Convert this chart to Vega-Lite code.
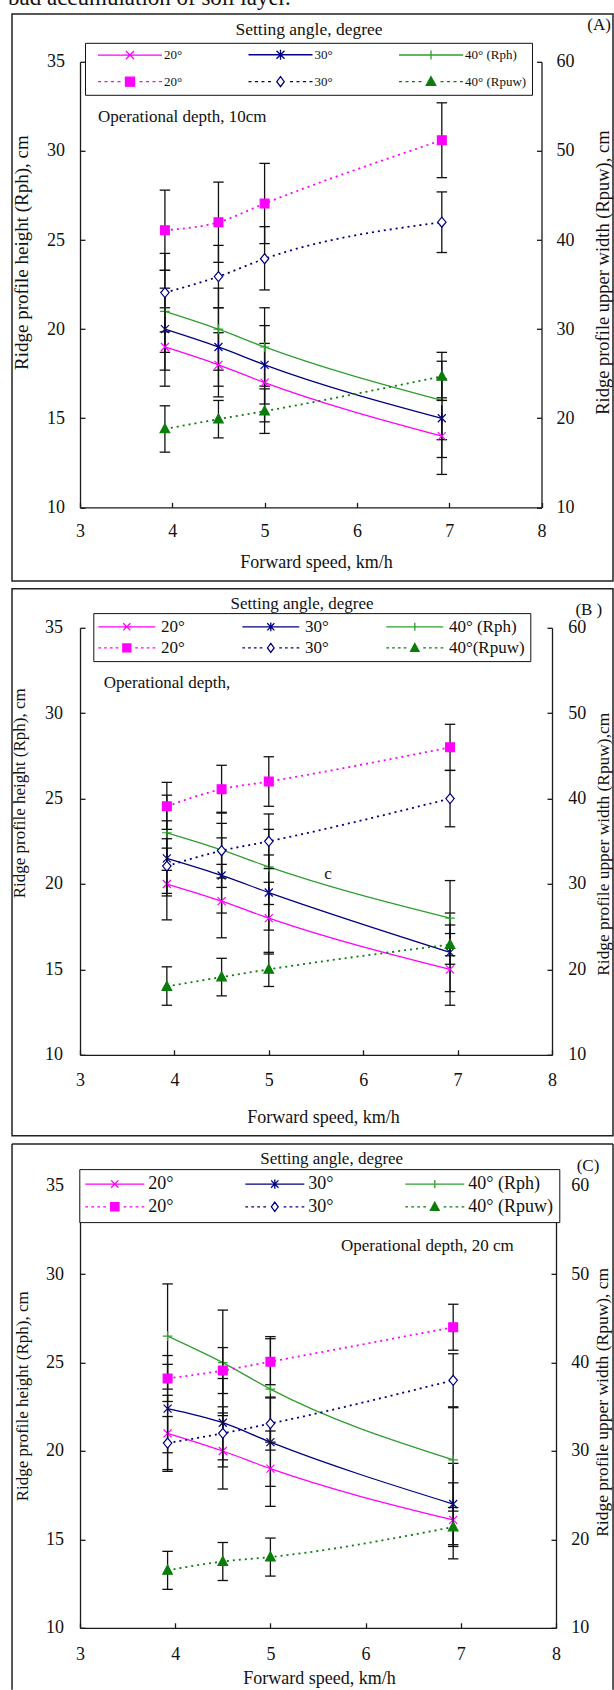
{
  "$schema": "https://vega.github.io/schema/vega-lite/v6.json",
  "autosize": {"type": "pad"},
  "padding": {"left": 8, "top": -13.2, "right": 0, "bottom": 0},
  "background": "white",
  "config": {
    "font": "Liberation Serif",
    "view": {"stroke": null},
    "axis": {"grid": false, "domainColor": "#1a1a1a", "domainWidth": 1.3, "tickColor": "#1a1a1a", "tickWidth": 1.3, "tickSize": -5, "labelColor": "#111", "titleColor": "#111", "labelFont": "Liberation Serif", "titleFont": "Liberation Serif", "titleFontWeight": "normal", "labelFontSize": 18, "labelFlush": false, "labelOverlap": false, "format": "d"}
  },
  "datasets": {
    "keys": [{"series": "k1"}, {"series": "k2"}, {"series": "k3"}, {"series": "k4"}, {"series": "k5"}, {"series": "k6"}],
    "pts": [
      {"panel": "A", "series": "Rph 20°", "measure": "Rph", "speed": 3.92, "value": 19, "lo": 16.8, "hi": 21.2},
      {"panel": "A", "series": "Rph 20°", "measure": "Rph", "speed": 4.5, "value": 18, "lo": 16.2, "hi": 19.8},
      {"panel": "A", "series": "Rph 20°", "measure": "Rph", "speed": 5.0, "value": 17, "lo": 14.8, "hi": 19.2},
      {"panel": "A", "series": "Rph 20°", "measure": "Rph", "speed": 6.92, "value": 14, "lo": 11.85, "hi": 16.15},
      {"panel": "A", "series": "Rph 30°", "measure": "Rph", "speed": 3.92, "value": 20, "lo": 17.7, "hi": 22.3},
      {"panel": "A", "series": "Rph 30°", "measure": "Rph", "speed": 4.5, "value": 19, "lo": 16.8, "hi": 21.2},
      {"panel": "A", "series": "Rph 30°", "measure": "Rph", "speed": 5.0, "value": 18, "lo": 15.8, "hi": 20.2},
      {"panel": "A", "series": "Rph 30°", "measure": "Rph", "speed": 6.92, "value": 15, "lo": 12.8, "hi": 17.2},
      {"panel": "A", "series": "Rph 40°", "measure": "Rph", "speed": 3.92, "value": 21, "lo": 18.7, "hi": 23.3},
      {"panel": "A", "series": "Rph 40°", "measure": "Rph", "speed": 4.5, "value": 20, "lo": 17.7, "hi": 22.3},
      {"panel": "A", "series": "Rph 40°", "measure": "Rph", "speed": 5.0, "value": 19, "lo": 16.8, "hi": 21.2},
      {"panel": "A", "series": "Rph 40°", "measure": "Rph", "speed": 6.92, "value": 16, "lo": 13.8, "hi": 18.2},
      {"panel": "A", "series": "Rpuw 20°", "measure": "Rpuw", "speed": 3.92, "value": 41.1, "lo": 36.6, "hi": 45.6},
      {"panel": "A", "series": "Rpuw 20°", "measure": "Rpuw", "speed": 4.5, "value": 42, "lo": 37.5, "hi": 46.5},
      {"panel": "A", "series": "Rpuw 20°", "measure": "Rpuw", "speed": 5.0, "value": 44.1, "lo": 39.6, "hi": 48.6},
      {"panel": "A", "series": "Rpuw 20°", "measure": "Rpuw", "speed": 6.92, "value": 51.2, "lo": 47, "hi": 55.4},
      {"panel": "A", "series": "Rpuw 30°", "measure": "Rpuw", "speed": 3.92, "value": 34.1, "lo": 29.7, "hi": 38.5},
      {"panel": "A", "series": "Rpuw 30°", "measure": "Rpuw", "speed": 4.5, "value": 35.9, "lo": 32.4, "hi": 39.4},
      {"panel": "A", "series": "Rpuw 30°", "measure": "Rpuw", "speed": 5.0, "value": 37.9, "lo": 34.4, "hi": 41.5},
      {"panel": "A", "series": "Rpuw 30°", "measure": "Rpuw", "speed": 6.92, "value": 42, "lo": 38.6, "hi": 45.4},
      {"panel": "A", "series": "Rpuw 40°", "measure": "Rpuw", "speed": 3.92, "value": 18.8, "lo": 16.2, "hi": 21.4},
      {"panel": "A", "series": "Rpuw 40°", "measure": "Rpuw", "speed": 4.5, "value": 19.9, "lo": 17.8, "hi": 22},
      {"panel": "A", "series": "Rpuw 40°", "measure": "Rpuw", "speed": 5.0, "value": 20.8, "lo": 18.3, "hi": 23.3},
      {"panel": "A", "series": "Rpuw 40°", "measure": "Rpuw", "speed": 6.92, "value": 24.7, "lo": 22, "hi": 27.4},
      {"panel": "B", "series": "Rph 20°", "measure": "Rph", "speed": 3.92, "value": 20, "lo": 17.9, "hi": 22.1},
      {"panel": "B", "series": "Rph 20°", "measure": "Rph", "speed": 4.5, "value": 19, "lo": 16.85, "hi": 21.15},
      {"panel": "B", "series": "Rph 20°", "measure": "Rph", "speed": 5.0, "value": 18, "lo": 15.9, "hi": 20.1},
      {"panel": "B", "series": "Rph 20°", "measure": "Rph", "speed": 6.92, "value": 15, "lo": 12.9, "hi": 17.1},
      {"panel": "B", "series": "Rph 30°", "measure": "Rph", "speed": 3.92, "value": 21.5, "lo": 19.3, "hi": 23.7},
      {"panel": "B", "series": "Rph 30°", "measure": "Rph", "speed": 4.5, "value": 20.5, "lo": 18.3, "hi": 22.7},
      {"panel": "B", "series": "Rph 30°", "measure": "Rph", "speed": 5.0, "value": 19.5, "lo": 17.3, "hi": 21.7},
      {"panel": "B", "series": "Rph 30°", "measure": "Rph", "speed": 6.92, "value": 16, "lo": 13.7, "hi": 18.3},
      {"panel": "B", "series": "Rph 40°", "measure": "Rph", "speed": 3.92, "value": 23, "lo": 20.8, "hi": 25.2},
      {"panel": "B", "series": "Rph 40°", "measure": "Rph", "speed": 4.5, "value": 22, "lo": 19.8, "hi": 24.2},
      {"panel": "B", "series": "Rph 40°", "measure": "Rph", "speed": 5.0, "value": 21, "lo": 18.8, "hi": 23.2},
      {"panel": "B", "series": "Rph 40°", "measure": "Rph", "speed": 6.92, "value": 18, "lo": 15.8, "hi": 20.2},
      {"panel": "B", "series": "Rpuw 20°", "measure": "Rpuw", "speed": 3.92, "value": 39.1, "lo": 36.4, "hi": 41.9},
      {"panel": "B", "series": "Rpuw 20°", "measure": "Rpuw", "speed": 4.5, "value": 41.1, "lo": 38.3, "hi": 43.9},
      {"panel": "B", "series": "Rpuw 20°", "measure": "Rpuw", "speed": 5.0, "value": 42, "lo": 39.1, "hi": 44.9},
      {"panel": "B", "series": "Rpuw 20°", "measure": "Rpuw", "speed": 6.92, "value": 46, "lo": 43.3, "hi": 48.7},
      {"panel": "B", "series": "Rpuw 30°", "measure": "Rpuw", "speed": 3.92, "value": 32.1, "lo": 28.9, "hi": 35.3},
      {"panel": "B", "series": "Rpuw 30°", "measure": "Rpuw", "speed": 4.5, "value": 33.9, "lo": 30.7, "hi": 37.1},
      {"panel": "B", "series": "Rpuw 30°", "measure": "Rpuw", "speed": 5.0, "value": 35, "lo": 31.8, "hi": 38.2},
      {"panel": "B", "series": "Rpuw 30°", "measure": "Rpuw", "speed": 6.92, "value": 40, "lo": 36.7, "hi": 43.3},
      {"panel": "B", "series": "Rpuw 40°", "measure": "Rpuw", "speed": 3.92, "value": 18, "lo": 15.8, "hi": 20.3},
      {"panel": "B", "series": "Rpuw 40°", "measure": "Rpuw", "speed": 4.5, "value": 19.1, "lo": 16.9, "hi": 21.3},
      {"panel": "B", "series": "Rpuw 40°", "measure": "Rpuw", "speed": 5.0, "value": 20, "lo": 18, "hi": 22},
      {"panel": "B", "series": "Rpuw 40°", "measure": "Rpuw", "speed": 6.92, "value": 22.9, "lo": 20.6, "hi": 25.2},
      {"panel": "C", "series": "Rph 20°", "measure": "Rph", "speed": 3.92, "value": 21, "lo": 18.85, "hi": 23.15},
      {"panel": "C", "series": "Rph 20°", "measure": "Rph", "speed": 4.5, "value": 20, "lo": 17.85, "hi": 22.15},
      {"panel": "C", "series": "Rph 20°", "measure": "Rph", "speed": 5.0, "value": 19, "lo": 16.87, "hi": 21.13},
      {"panel": "C", "series": "Rph 20°", "measure": "Rph", "speed": 6.92, "value": 16.1, "lo": 13.9, "hi": 18.2},
      {"panel": "C", "series": "Rph 30°", "measure": "Rph", "speed": 3.92, "value": 22.4, "lo": 19.9, "hi": 24.9},
      {"panel": "C", "series": "Rph 30°", "measure": "Rph", "speed": 4.5, "value": 21.6, "lo": 19.1, "hi": 24.1},
      {"panel": "C", "series": "Rph 30°", "measure": "Rph", "speed": 5.0, "value": 20.5, "lo": 18, "hi": 23},
      {"panel": "C", "series": "Rph 30°", "measure": "Rph", "speed": 6.92, "value": 17, "lo": 14.7, "hi": 19.3},
      {"panel": "C", "series": "Rph 40°", "measure": "Rph", "speed": 3.92, "value": 26.5, "lo": 23.5, "hi": 29.45},
      {"panel": "C", "series": "Rph 40°", "measure": "Rph", "speed": 4.5, "value": 25, "lo": 22, "hi": 27.97},
      {"panel": "C", "series": "Rph 40°", "measure": "Rph", "speed": 5.0, "value": 23.5, "lo": 20.5, "hi": 26.47},
      {"panel": "C", "series": "Rph 40°", "measure": "Rph", "speed": 6.92, "value": 19.5, "lo": 16.6, "hi": 22.45},
      {"panel": "C", "series": "Rpuw 20°", "measure": "Rpuw", "speed": 3.92, "value": 38.2, "lo": 35.6, "hi": 40.8},
      {"panel": "C", "series": "Rpuw 20°", "measure": "Rpuw", "speed": 4.5, "value": 39.1, "lo": 36.5, "hi": 41.7},
      {"panel": "C", "series": "Rpuw 20°", "measure": "Rpuw", "speed": 5.0, "value": 40.1, "lo": 37.5, "hi": 42.7},
      {"panel": "C", "series": "Rpuw 20°", "measure": "Rpuw", "speed": 6.92, "value": 44, "lo": 41.4, "hi": 46.6},
      {"panel": "C", "series": "Rpuw 30°", "measure": "Rpuw", "speed": 3.92, "value": 30.9, "lo": 27.9, "hi": 33.9},
      {"panel": "C", "series": "Rpuw 30°", "measure": "Rpuw", "speed": 4.5, "value": 32, "lo": 29, "hi": 35},
      {"panel": "C", "series": "Rpuw 30°", "measure": "Rpuw", "speed": 5.0, "value": 33.1, "lo": 30.1, "hi": 36.1},
      {"panel": "C", "series": "Rpuw 30°", "measure": "Rpuw", "speed": 6.92, "value": 38, "lo": 35, "hi": 41},
      {"panel": "C", "series": "Rpuw 40°", "measure": "Rpuw", "speed": 3.92, "value": 16.5, "lo": 14.35, "hi": 18.65},
      {"panel": "C", "series": "Rpuw 40°", "measure": "Rpuw", "speed": 4.5, "value": 17.5, "lo": 15.35, "hi": 19.65},
      {"panel": "C", "series": "Rpuw 40°", "measure": "Rpuw", "speed": 5.0, "value": 18, "lo": 15.85, "hi": 20.15},
      {"panel": "C", "series": "Rpuw 40°", "measure": "Rpuw", "speed": 6.92, "value": 21.4, "lo": 19.2, "hi": 23.6}
    ]
  },
  "vconcat": [
    {
      "width": 461.5,
      "height": 445.6,
      "layer": [
        {
          "layer": [
            {"data": {"values": [{}]}, "mark": {"type": "text", "text": "bad accumulation of soil layer.", "fontSize": 23, "align": "left", "baseline": "alphabetic", "color": "#111"},
             "encoding": {"x": {"datum": 2.22, "type": "quantitative"}, "y": {"datum": 38.18, "type": "quantitative"}}},
            {"data": {"values": [{}]}, "mark": {"type": "rect", "fill": "transparent", "stroke": "#222", "strokeWidth": 1.5},
             "encoding": {"x": {"datum": 2.2633, "type": "quantitative"}, "x2": {"datum": 8.7746}, "y": {"datum": 37.677, "type": "quantitative"}, "y2": {"datum": 5.864}}},
            {"data": {"values": [{}]}, "mark": {"type": "text", "text": "Setting angle, degree", "fontSize": 17.5, "color": "#111"},
             "encoding": {"x": {"datum": 5.481, "type": "quantitative"}, "y": {"datum": 36.78, "type": "quantitative"}}},
            {"data": {"values": [{}]}, "mark": {"type": "text", "text": "(A)", "fontSize": 17, "color": "#111"},
             "encoding": {"x": {"datum": 8.623, "type": "quantitative"}, "y": {"datum": 37.06, "type": "quantitative"}}},
            {"data": {"values": [{}]}, "mark": {"type": "text", "text": "Operational depth, 10cm", "fontSize": 17, "align": "left", "color": "#111"},
             "encoding": {"x": {"datum": 3.195, "type": "quantitative"}, "y": {"datum": 31.88, "type": "quantitative"}}},
            {"data": {"name": "pts"}, "transform": [{"filter": "datum.panel === 'A' && datum.measure === 'Rph'"}],
             "mark": {"type": "line", "strokeWidth": 1.3, "interpolate": "monotone"},
             "encoding": {
               "x": {"field": "speed", "type": "quantitative", "scale": {"domain": [3, 8], "nice": false, "zero": false}, "title": "Forward speed, km/h",
                     "axis": {"values": [3, 4, 5, 6, 7, 8], "labelPadding": 20.4, "titleFontSize": 18, "titleX": 236, "titleY": 54.7, "titleBaseline": "middle", "titleAlign": "center"}},
               "y": {"field": "value", "type": "quantitative", "scale": {"domain": [10, 35], "nice": false, "zero": false}, "title": "Ridge profile height (Rph), cm",
                     "axis": {"orient": "left", "values": [10, 15, 20, 25, 30, 35], "labelPadding": 20.4, "titleFontSize": 19, "titleAngle": 270, "titleX": -58.5, "titleY": 190.3, "titleBaseline": "middle", "titleAlign": "center"}},
               "stroke": {"field": "series", "type": "nominal", "legend": null, "scale": {"domain": ["Rph 20°", "Rph 30°", "Rph 40°", "Rpuw 20°", "Rpuw 30°", "Rpuw 40°"], "range": ["#ff00ff", "#000080", "#2e9e2e", "#ff00ff", "#000080", "#0a7d0a"]}}
             }},
            {"data": {"name": "pts"}, "transform": [{"filter": "datum.panel === 'A' && datum.measure === 'Rph'"}],
             "mark": {"type": "rule", "color": "#111", "strokeWidth": 1.3},
             "encoding": {"x": {"field": "speed", "type": "quantitative", "title": "Forward speed, km/h"}, "y": {"field": "lo", "type": "quantitative", "title": "Ridge profile height (Rph), cm"}, "y2": {"field": "hi"}}},
            {"data": {"name": "pts"}, "transform": [{"filter": "datum.panel === 'A' && datum.measure === 'Rph'"}, {"fold": ["lo", "hi"], "as": ["end", "bound"]}],
             "mark": {"type": "point", "shape": "M-1,0H1", "size": 110, "filled": false, "color": "#111", "strokeWidth": 1.3, "opacity": 1},
             "encoding": {"x": {"field": "speed", "type": "quantitative", "title": "Forward speed, km/h"}, "y": {"field": "bound", "type": "quantitative", "title": "Ridge profile height (Rph), cm"}}},
            {"data": {"name": "pts"}, "transform": [{"filter": "datum.panel === 'A' && datum.measure === 'Rph'"}],
             "mark": {"type": "point", "filled": false, "size": 64, "strokeWidth": 1.2, "opacity": 1},
             "encoding": {"x": {"field": "speed", "type": "quantitative", "title": "Forward speed, km/h"}, "y": {"field": "value", "type": "quantitative", "title": "Ridge profile height (Rph), cm"},
                          "color": {"field": "series", "type": "nominal"},
                          "shape": {"field": "series", "type": "nominal"},
                          "fill": {"field": "series", "type": "nominal"}}},
            {"data": {"name": "keys"},
             "mark": {"type": "point", "filled": false, "opacity": 0, "strokeWidth": 1.3},
             "encoding": {
               "color": {"field": "series", "type": "nominal",
                         "scale": {"domain": ["Rph 20°", "Rph 30°", "Rph 40°", "Rpuw 20°", "Rpuw 30°", "Rpuw 40°", "k1", "k2", "k3", "k4", "k5", "k6"], "range": ["#ff00ff", "#000080", "#2e9e2e", "#ff00ff", "#000080", "#0a7d0a", "#ff00ff", "#000080", "#2e9e2e", "#ff00ff", "#000080", "#0a7d0a"]},
                         "legend": {"orient": "none", "legendX": 5, "legendY": -19, "title": null, "values": ["k1", "k2", "k3", "k4", "k5", "k6"], "direction": "horizontal", "columns": 3, "gridAlign": "all", "padding": 5, "rowPadding": 10.4, "columnPadding": 11.5,
                                    "symbolSize": 100, "symbolStrokeWidth": 1.3, "symbolOpacity": 1, "symbolOffset": 33.5, "labelOffset": 27.5, "labelFontSize": 13, "labelFont": "Liberation Serif", "labelColor": "#111",
                                    "strokeColor": "#111", "fillColor": "#ffffff",
                                    "labelExpr": "datum.value === 'k1' || datum.value === 'k4' ? '20°' : datum.value === 'k2' || datum.value === 'k5' ? '30°' : datum.value === 'k3' ? '40° (Rph)' : '40° (Rpuw)'"}},
               "shape": {"field": "series", "type": "nominal",
                         "scale": {"domain": ["Rph 20°", "Rph 30°", "Rph 40°", "Rpuw 20°", "Rpuw 30°", "Rpuw 40°", "k1", "k2", "k3", "k4", "k5", "k6"],
                                   "range": ["M-1,-1L1,1M-1,1L1,-1", "M-1,-1L1,1M-1,1L1,-1M0,-1.3V1.3", "M-1.2,0H1.2M0,-1.2V1.2", "M-1.1,-1.1H1.1V1.1H-1.1Z", "M0,-1.25L1.05,0L0,1.25L-1.05,0Z", "M0,-1.3L1.2,0.95H-1.2Z",
                                             "M-8,0M-6.4,0H6.4M-0.8,-0.8L0.8,0.8M-0.8,0.8L0.8,-0.8",
                                             "M-8,0M-6.4,0H6.4M-0.8,-0.8L0.8,0.8M-0.8,0.8L0.8,-0.8M0,-1V1",
                                             "M-8,0M-6.4,0H6.4M0,-0.9V0.9",
                                             "M-8,0M-6.4,0h0.6M-5.1,0h0.6M-3.8,0h0.6M-2.5,0h0.6M1.9,0h0.6M3.2,0h0.6M4.5,0h0.6M5.8,0h0.6M-0.9,-0.9H0.9V0.9H-0.9Z",
                                             "M-8,0M-6.4,0h0.6M-5.1,0h0.6M-3.8,0h0.6M-2.5,0h0.6M1.9,0h0.6M3.2,0h0.6M4.5,0h0.6M5.8,0h0.6M0,-1L0.75,0L0,1L-0.75,0Z",
                                             "M-8,0M-6.4,0h0.6M-5.1,0h0.6M-3.8,0h0.6M-2.5,0h0.6M1.9,0h0.6M3.2,0h0.6M4.5,0h0.6M5.8,0h0.6M0,-1L0.95,0.75H-0.95Z"]}},
               "fill": {"field": "series", "type": "nominal",
                        "scale": {"domain": ["Rph 20°", "Rph 30°", "Rph 40°", "Rpuw 20°", "Rpuw 30°", "Rpuw 40°", "k1", "k2", "k3", "k4", "k5", "k6"], "range": ["transparent", "transparent", "transparent", "#ff00ff", "#ffffff", "#0a7d0a", "transparent", "transparent", "transparent", "#ff00ff", "#ffffff", "#0a7d0a"]}}
             }}
          ]
        },
        {
          "layer": [
            {"data": {"name": "pts"}, "transform": [{"filter": "datum.panel === 'A' && datum.measure === 'Rpuw'"}],
             "mark": {"type": "line", "strokeWidth": 1.8, "strokeDash": [2, 4], "interpolate": "monotone"},
             "encoding": {
               "x": {"field": "speed", "type": "quantitative", "title": "Forward speed, km/h"},
               "y": {"field": "value", "type": "quantitative", "scale": {"domain": [10, 60], "nice": false, "zero": false}, "title": "Ridge profile upper width (Rpuw), cm",
                     "axis": {"orient": "right", "values": [10, 20, 30, 40, 50, 60], "labelPadding": 19.5, "titleFontSize": 18.5, "titleAngle": 270, "titleX": 61.5, "titleY": 210.3, "titleBaseline": "middle", "titleAlign": "center"}},
               "stroke": {"field": "series", "type": "nominal", "legend": null}
             }},
            {"data": {"name": "pts"}, "transform": [{"filter": "datum.panel === 'A' && datum.measure === 'Rpuw'"}],
             "mark": {"type": "rule", "color": "#111", "strokeWidth": 1.3},
             "encoding": {"x": {"field": "speed", "type": "quantitative", "title": "Forward speed, km/h"}, "y": {"field": "lo", "type": "quantitative", "title": "Ridge profile upper width (Rpuw), cm"}, "y2": {"field": "hi"}}},
            {"data": {"name": "pts"}, "transform": [{"filter": "datum.panel === 'A' && datum.measure === 'Rpuw'"}, {"fold": ["lo", "hi"], "as": ["end", "bound"]}],
             "mark": {"type": "point", "shape": "M-1,0H1", "size": 110, "filled": false, "color": "#111", "strokeWidth": 1.3, "opacity": 1},
             "encoding": {"x": {"field": "speed", "type": "quantitative", "title": "Forward speed, km/h"}, "y": {"field": "bound", "type": "quantitative", "title": "Ridge profile upper width (Rpuw), cm"}}},
            {"data": {"name": "pts"}, "transform": [{"filter": "datum.panel === 'A' && datum.measure === 'Rpuw'"}],
             "mark": {"type": "point", "filled": false, "size": 64, "strokeWidth": 1.2, "opacity": 1},
             "encoding": {"x": {"field": "speed", "type": "quantitative", "title": "Forward speed, km/h"}, "y": {"field": "value", "type": "quantitative", "title": "Ridge profile upper width (Rpuw), cm"},
                          "color": {"field": "series", "type": "nominal"},
                          "shape": {"field": "series", "type": "nominal"},
                          "fill": {"field": "series", "type": "nominal"}}}
          ]
        }
      ],
      "resolve": {"scale": {"y": "independent"}}
    },
    {"width": 10, "height": 119.7, "data": {"values": []}, "mark": "point"},
    {
      "width": 472,
      "height": 427,
      "layer": [
        {
          "layer": [
            {"data": {"values": [{}]}, "mark": {"type": "rect", "fill": "transparent", "stroke": "#222", "strokeWidth": 1.5},
             "encoding": {"x": {"datum": 2.2797, "type": "quantitative"}, "x2": {"datum": 8.646}, "y": {"datum": 37.283, "type": "quantitative"}, "y2": {"datum": 5.258}}},
            {"data": {"values": [{}]}, "mark": {"type": "text", "text": "Setting angle, degree", "fontSize": 17, "color": "#111"},
             "encoding": {"x": {"datum": 5.352, "type": "quantitative"}, "y": {"datum": 36.405, "type": "quantitative"}}},
            {"data": {"values": [{}]}, "mark": {"type": "text", "text": "(B )", "fontSize": 17, "color": "#111"},
             "encoding": {"x": {"datum": 8.39, "type": "quantitative"}, "y": {"datum": 36.036, "type": "quantitative"}}},
            {"data": {"values": [{}]}, "mark": {"type": "text", "text": "Operational depth,", "fontSize": 17, "align": "left", "color": "#111"},
             "encoding": {"x": {"datum": 3.252, "type": "quantitative"}, "y": {"datum": 31.78, "type": "quantitative"}}},
            {"data": {"values": [{}]}, "mark": {"type": "text", "text": "c", "fontSize": 17, "color": "#111"},
             "encoding": {"x": {"datum": 5.627, "type": "quantitative"}, "y": {"datum": 20.58, "type": "quantitative"}}},
            {"data": {"name": "pts"}, "transform": [{"filter": "datum.panel === 'B' && datum.measure === 'Rph'"}],
             "mark": {"type": "line", "strokeWidth": 1.3, "interpolate": "monotone"},
             "encoding": {
               "x": {"field": "speed", "type": "quantitative", "scale": {"domain": [3, 8], "nice": false, "zero": false}, "title": "Forward speed, km/h",
                     "axis": {"values": [3, 4, 5, 6, 7, 8], "labelPadding": 21.7, "titleFontSize": 18, "titleX": 243, "titleY": 62.7, "titleBaseline": "middle", "titleAlign": "center"}},
               "y": {"field": "value", "type": "quantitative", "scale": {"domain": [10, 35], "nice": false, "zero": false}, "title": "Ridge profile height (Rph), cm",
                     "axis": {"orient": "left", "values": [10, 15, 20, 25, 30, 35], "labelPadding": 22.6, "titleFontSize": 17, "titleAngle": 270, "titleX": -60.4, "titleY": 165, "titleBaseline": "middle", "titleAlign": "center"}},
               "stroke": {"field": "series", "type": "nominal", "legend": null, "scale": {"domain": ["Rph 20°", "Rph 30°", "Rph 40°", "Rpuw 20°", "Rpuw 30°", "Rpuw 40°"], "range": ["#ff00ff", "#000080", "#2e9e2e", "#ff00ff", "#000080", "#0a7d0a"]}}
             }},
            {"data": {"name": "pts"}, "transform": [{"filter": "datum.panel === 'B' && datum.measure === 'Rph'"}],
             "mark": {"type": "rule", "color": "#111", "strokeWidth": 1.3},
             "encoding": {"x": {"field": "speed", "type": "quantitative", "title": "Forward speed, km/h"}, "y": {"field": "lo", "type": "quantitative", "title": "Ridge profile height (Rph), cm"}, "y2": {"field": "hi"}}},
            {"data": {"name": "pts"}, "transform": [{"filter": "datum.panel === 'B' && datum.measure === 'Rph'"}, {"fold": ["lo", "hi"], "as": ["end", "bound"]}],
             "mark": {"type": "point", "shape": "M-1,0H1", "size": 110, "filled": false, "color": "#111", "strokeWidth": 1.3, "opacity": 1},
             "encoding": {"x": {"field": "speed", "type": "quantitative", "title": "Forward speed, km/h"}, "y": {"field": "bound", "type": "quantitative", "title": "Ridge profile height (Rph), cm"}}},
            {"data": {"name": "pts"}, "transform": [{"filter": "datum.panel === 'B' && datum.measure === 'Rph'"}],
             "mark": {"type": "point", "filled": false, "size": 64, "strokeWidth": 1.2, "opacity": 1},
             "encoding": {"x": {"field": "speed", "type": "quantitative", "title": "Forward speed, km/h"}, "y": {"field": "value", "type": "quantitative", "title": "Ridge profile height (Rph), cm"},
                          "color": {"field": "series", "type": "nominal"},
                          "shape": {"field": "series", "type": "nominal"},
                          "fill": {"field": "series", "type": "nominal"}}},
            {"data": {"name": "keys"},
             "mark": {"type": "point", "filled": false, "opacity": 0, "strokeWidth": 1.3},
             "encoding": {
               "color": {"field": "series", "type": "nominal",
                         "scale": {"domain": ["Rph 20°", "Rph 30°", "Rph 40°", "Rpuw 20°", "Rpuw 30°", "Rpuw 40°", "k1", "k2", "k3", "k4", "k5", "k6"], "range": ["#ff00ff", "#000080", "#2e9e2e", "#ff00ff", "#000080", "#0a7d0a", "#ff00ff", "#000080", "#2e9e2e", "#ff00ff", "#000080", "#0a7d0a"]},
                         "legend": {"orient": "none", "legendX": 13.3, "legendY": -14.7, "title": null, "values": ["k1", "k2", "k3", "k4", "k5", "k6"], "direction": "horizontal", "columns": 3, "gridAlign": "all", "padding": 5, "rowPadding": 3.3, "columnPadding": 2,
                                    "symbolSize": 79, "symbolStrokeWidth": 1.3, "symbolOpacity": 1, "symbolOffset": 20, "labelOffset": 25.6, "labelFontSize": 17, "labelFont": "Liberation Serif", "labelColor": "#111",
                                    "strokeColor": "#111", "fillColor": "#ffffff",
                                    "labelExpr": "datum.value === 'k1' || datum.value === 'k4' ? '20°' : datum.value === 'k2' || datum.value === 'k5' ? '30°' : datum.value === 'k3' ? '40° (Rph)' : '40°(Rpuw)'"}},
               "shape": {"field": "series", "type": "nominal",
                         "scale": {"domain": ["Rph 20°", "Rph 30°", "Rph 40°", "Rpuw 20°", "Rpuw 30°", "Rpuw 40°", "k1", "k2", "k3", "k4", "k5", "k6"],
                                   "range": ["M-1,-1L1,1M-1,1L1,-1", "M-1,-1L1,1M-1,1L1,-1M0,-1.3V1.3", "M-1.2,0H1.2M0,-1.2V1.2", "M-1.1,-1.1H1.1V1.1H-1.1Z", "M0,-1.25L1.05,0L0,1.25L-1.05,0Z", "M0,-1.3L1.2,0.95H-1.2Z",
                                             "M-6.4,0H6.4M-0.8,-0.8L0.8,0.8M-0.8,0.8L0.8,-0.8",
                                             "M-6.4,0H6.4M-0.8,-0.8L0.8,0.8M-0.8,0.8L0.8,-0.8M0,-1V1",
                                             "M-6.4,0H6.4M0,-0.9V0.9",
                                             "M-6.4,0h0.6M-5.1,0h0.6M-3.8,0h0.6M-2.5,0h0.6M1.9,0h0.6M3.2,0h0.6M4.5,0h0.6M5.8,0h0.6M-0.9,-0.9H0.9V0.9H-0.9Z",
                                             "M-6.4,0h0.6M-5.1,0h0.6M-3.8,0h0.6M-2.5,0h0.6M1.9,0h0.6M3.2,0h0.6M4.5,0h0.6M5.8,0h0.6M0,-1L0.75,0L0,1L-0.75,0Z",
                                             "M-6.4,0h0.6M-5.1,0h0.6M-3.8,0h0.6M-2.5,0h0.6M1.9,0h0.6M3.2,0h0.6M4.5,0h0.6M5.8,0h0.6M0,-1L0.95,0.75H-0.95Z"]}},
               "fill": {"field": "series", "type": "nominal",
                        "scale": {"domain": ["Rph 20°", "Rph 30°", "Rph 40°", "Rpuw 20°", "Rpuw 30°", "Rpuw 40°", "k1", "k2", "k3", "k4", "k5", "k6"], "range": ["transparent", "transparent", "transparent", "#ff00ff", "#ffffff", "#0a7d0a", "transparent", "transparent", "transparent", "#ff00ff", "#ffffff", "#0a7d0a"]}}
             }}
          ]
        },
        {
          "layer": [
            {"data": {"name": "pts"}, "transform": [{"filter": "datum.panel === 'B' && datum.measure === 'Rpuw'"}],
             "mark": {"type": "line", "strokeWidth": 1.8, "strokeDash": [2, 4], "interpolate": "monotone"},
             "encoding": {
               "x": {"field": "speed", "type": "quantitative", "title": "Forward speed, km/h"},
               "y": {"field": "value", "type": "quantitative", "scale": {"domain": [10, 60], "nice": false, "zero": false}, "title": "Ridge profile upper width (Rpuw),cm",
                     "axis": {"orient": "right", "values": [10, 20, 30, 40, 50, 60], "labelPadding": 20.7, "titleFontSize": 17.4, "titleAngle": 270, "titleX": 52, "titleY": 216, "titleBaseline": "middle", "titleAlign": "center"}},
               "stroke": {"field": "series", "type": "nominal", "legend": null}
             }},
            {"data": {"name": "pts"}, "transform": [{"filter": "datum.panel === 'B' && datum.measure === 'Rpuw'"}],
             "mark": {"type": "rule", "color": "#111", "strokeWidth": 1.3},
             "encoding": {"x": {"field": "speed", "type": "quantitative", "title": "Forward speed, km/h"}, "y": {"field": "lo", "type": "quantitative", "title": "Ridge profile upper width (Rpuw),cm"}, "y2": {"field": "hi"}}},
            {"data": {"name": "pts"}, "transform": [{"filter": "datum.panel === 'B' && datum.measure === 'Rpuw'"}, {"fold": ["lo", "hi"], "as": ["end", "bound"]}],
             "mark": {"type": "point", "shape": "M-1,0H1", "size": 110, "filled": false, "color": "#111", "strokeWidth": 1.3, "opacity": 1},
             "encoding": {"x": {"field": "speed", "type": "quantitative", "title": "Forward speed, km/h"}, "y": {"field": "bound", "type": "quantitative", "title": "Ridge profile upper width (Rpuw),cm"}}},
            {"data": {"name": "pts"}, "transform": [{"filter": "datum.panel === 'B' && datum.measure === 'Rpuw'"}],
             "mark": {"type": "point", "filled": false, "size": 64, "strokeWidth": 1.2, "opacity": 1},
             "encoding": {"x": {"field": "speed", "type": "quantitative", "title": "Forward speed, km/h"}, "y": {"field": "value", "type": "quantitative", "title": "Ridge profile upper width (Rpuw),cm"},
                          "color": {"field": "series", "type": "nominal"},
                          "shape": {"field": "series", "type": "nominal"},
                          "fill": {"field": "series", "type": "nominal"}}}
          ]
        }
      ],
      "resolve": {"scale": {"y": "independent"}}
    },
    {"width": 10, "height": 131, "data": {"values": []}, "mark": "point"},
    {
      "width": 476,
      "height": 442,
      "layer": [
        {
          "layer": [
            {"data": {"values": [{}]}, "mark": {"type": "rule", "stroke": "#222", "strokeWidth": 1.5},
             "encoding": {"x": {"datum": 2.286, "type": "quantitative"}, "x2": {"datum": 8.599}, "y": {"datum": 37.359, "type": "quantitative"}}},
            {"data": {"values": [{}]}, "mark": {"type": "rule", "stroke": "#222", "strokeWidth": 1.5},
             "encoding": {"x": {"datum": 2.286, "type": "quantitative"}, "y": {"datum": 37.359, "type": "quantitative"}, "y2": {"datum": 6.493}}},
            {"data": {"values": [{}]}, "mark": {"type": "rule", "stroke": "#222", "strokeWidth": 1.5},
             "encoding": {"x": {"datum": 8.599, "type": "quantitative"}, "y": {"datum": 37.359, "type": "quantitative"}, "y2": {"datum": 6.493}}},
            {"data": {"values": [{}]}, "mark": {"type": "text", "text": "Setting angle, degree", "fontSize": 17, "color": "#111"},
             "encoding": {"x": {"datum": 5.644, "type": "quantitative"}, "y": {"datum": 36.53, "type": "quantitative"}}},
            {"data": {"values": [{}]}, "mark": {"type": "text", "text": "(C)", "fontSize": 17, "color": "#111"},
             "encoding": {"x": {"datum": 8.336, "type": "quantitative"}, "y": {"datum": 36.13, "type": "quantitative"}}},
            {"data": {"values": [{}]}, "mark": {"type": "text", "text": "Operational depth, 20 cm", "fontSize": 17, "align": "left", "color": "#111"},
             "encoding": {"x": {"datum": 5.742, "type": "quantitative"}, "y": {"datum": 31.6, "type": "quantitative"}}},
            {"data": {"name": "pts"}, "transform": [{"filter": "datum.panel === 'C' && datum.measure === 'Rph'"}],
             "mark": {"type": "line", "strokeWidth": 1.3, "interpolate": "monotone"},
             "encoding": {
               "x": {"field": "speed", "type": "quantitative", "scale": {"domain": [3, 8], "nice": false, "zero": false}, "title": "Forward speed, km/h",
                     "axis": {"values": [3, 4, 5, 6, 7, 8], "labelPadding": 23, "titleFontSize": 18, "titleX": 239, "titleY": 51, "titleBaseline": "middle", "titleAlign": "center"}},
               "y": {"field": "value", "type": "quantitative", "scale": {"domain": [10, 35], "nice": false, "zero": false}, "title": "Ridge profile height (Rph), cm",
                     "axis": {"orient": "left", "values": [10, 15, 20, 25, 30, 35], "labelPadding": 21.4, "titleFontSize": 17, "titleAngle": 270, "titleX": -57.5, "titleY": 210, "titleBaseline": "middle", "titleAlign": "center"}},
               "stroke": {"field": "series", "type": "nominal", "legend": null, "scale": {"domain": ["Rph 20°", "Rph 30°", "Rph 40°", "Rpuw 20°", "Rpuw 30°", "Rpuw 40°"], "range": ["#ff00ff", "#000080", "#2e9e2e", "#ff00ff", "#000080", "#0a7d0a"]}}
             }},
            {"data": {"name": "pts"}, "transform": [{"filter": "datum.panel === 'C' && datum.measure === 'Rph'"}],
             "mark": {"type": "rule", "color": "#111", "strokeWidth": 1.3},
             "encoding": {"x": {"field": "speed", "type": "quantitative", "title": "Forward speed, km/h"}, "y": {"field": "lo", "type": "quantitative", "title": "Ridge profile height (Rph), cm"}, "y2": {"field": "hi"}}},
            {"data": {"name": "pts"}, "transform": [{"filter": "datum.panel === 'C' && datum.measure === 'Rph'"}, {"fold": ["lo", "hi"], "as": ["end", "bound"]}],
             "mark": {"type": "point", "shape": "M-1,0H1", "size": 110, "filled": false, "color": "#111", "strokeWidth": 1.3, "opacity": 1},
             "encoding": {"x": {"field": "speed", "type": "quantitative", "title": "Forward speed, km/h"}, "y": {"field": "bound", "type": "quantitative", "title": "Ridge profile height (Rph), cm"}}},
            {"data": {"name": "pts"}, "transform": [{"filter": "datum.panel === 'C' && datum.measure === 'Rph'"}],
             "mark": {"type": "point", "filled": false, "size": 64, "strokeWidth": 1.2, "opacity": 1},
             "encoding": {"x": {"field": "speed", "type": "quantitative", "title": "Forward speed, km/h"}, "y": {"field": "value", "type": "quantitative", "title": "Ridge profile height (Rph), cm"},
                          "color": {"field": "series", "type": "nominal"},
                          "shape": {"field": "series", "type": "nominal"},
                          "fill": {"field": "series", "type": "nominal"}}},
            {"data": {"name": "keys"},
             "mark": {"type": "point", "filled": false, "opacity": 0, "strokeWidth": 1.3},
             "encoding": {
               "color": {"field": "series", "type": "nominal",
                         "scale": {"domain": ["Rph 20°", "Rph 30°", "Rph 40°", "Rpuw 20°", "Rpuw 30°", "Rpuw 40°", "k1", "k2", "k3", "k4", "k5", "k6"], "range": ["#ff00ff", "#000080", "#2e9e2e", "#ff00ff", "#000080", "#0a7d0a", "#ff00ff", "#000080", "#2e9e2e", "#ff00ff", "#000080", "#0a7d0a"]},
                         "legend": {"orient": "none", "legendX": -0.7, "legendY": -16.7, "title": null, "values": ["k1", "k2", "k3", "k4", "k5", "k6"], "direction": "horizontal", "columns": 3, "gridAlign": "all", "padding": 6, "rowPadding": 4.7, "columnPadding": 9,
                                    "symbolSize": 85, "symbolStrokeWidth": 1.3, "symbolOpacity": 1, "symbolOffset": 20.5, "labelOffset": 24.5, "labelFontSize": 18, "labelFont": "Liberation Serif", "labelColor": "#111",
                                    "strokeColor": "#111", "fillColor": "#ffffff",
                                    "labelExpr": "datum.value === 'k1' || datum.value === 'k4' ? '20°' : datum.value === 'k2' || datum.value === 'k5' ? '30°' : datum.value === 'k3' ? '40°  (Rph)' : '40° (Rpuw)'"}},
               "shape": {"field": "series", "type": "nominal",
                         "scale": {"domain": ["Rph 20°", "Rph 30°", "Rph 40°", "Rpuw 20°", "Rpuw 30°", "Rpuw 40°", "k1", "k2", "k3", "k4", "k5", "k6"],
                                   "range": ["M-1,-1L1,1M-1,1L1,-1", "M-1,-1L1,1M-1,1L1,-1M0,-1.3V1.3", "M-1.2,0H1.2M0,-1.2V1.2", "M-1.1,-1.1H1.1V1.1H-1.1Z", "M0,-1.25L1.05,0L0,1.25L-1.05,0Z", "M0,-1.3L1.2,0.95H-1.2Z",
                                             "M-6.4,0H6.4M-0.8,-0.8L0.8,0.8M-0.8,0.8L0.8,-0.8",
                                             "M-6.4,0H6.4M-0.8,-0.8L0.8,0.8M-0.8,0.8L0.8,-0.8M0,-1V1",
                                             "M-6.4,0H6.4M0,-0.9V0.9",
                                             "M-6.4,0h0.6M-5.1,0h0.6M-3.8,0h0.6M-2.5,0h0.6M1.9,0h0.6M3.2,0h0.6M4.5,0h0.6M5.8,0h0.6M-0.9,-0.9H0.9V0.9H-0.9Z",
                                             "M-6.4,0h0.6M-5.1,0h0.6M-3.8,0h0.6M-2.5,0h0.6M1.9,0h0.6M3.2,0h0.6M4.5,0h0.6M5.8,0h0.6M0,-1L0.75,0L0,1L-0.75,0Z",
                                             "M-6.4,0h0.6M-5.1,0h0.6M-3.8,0h0.6M-2.5,0h0.6M1.9,0h0.6M3.2,0h0.6M4.5,0h0.6M5.8,0h0.6M0,-1L0.95,0.75H-0.95Z"]}},
               "fill": {"field": "series", "type": "nominal",
                        "scale": {"domain": ["Rph 20°", "Rph 30°", "Rph 40°", "Rpuw 20°", "Rpuw 30°", "Rpuw 40°", "k1", "k2", "k3", "k4", "k5", "k6"], "range": ["transparent", "transparent", "transparent", "#ff00ff", "#ffffff", "#0a7d0a", "transparent", "transparent", "transparent", "#ff00ff", "#ffffff", "#0a7d0a"]}}
             }}
          ]
        },
        {
          "layer": [
            {"data": {"name": "pts"}, "transform": [{"filter": "datum.panel === 'C' && datum.measure === 'Rpuw'"}],
             "mark": {"type": "line", "strokeWidth": 1.8, "strokeDash": [2, 4], "interpolate": "monotone"},
             "encoding": {
               "x": {"field": "speed", "type": "quantitative", "title": "Forward speed, km/h"},
               "y": {"field": "value", "type": "quantitative", "scale": {"domain": [10, 60], "nice": false, "zero": false}, "title": "Ridge profile upper width (Rpuw), cm",
                     "axis": {"orient": "right", "values": [10, 20, 30, 40, 50, 60], "labelPadding": 19.8, "titleFontSize": 17.5, "titleAngle": 270, "titleX": 47, "titleY": 216, "titleBaseline": "middle", "titleAlign": "center"}},
               "stroke": {"field": "series", "type": "nominal", "legend": null}
             }},
            {"data": {"name": "pts"}, "transform": [{"filter": "datum.panel === 'C' && datum.measure === 'Rpuw'"}],
             "mark": {"type": "rule", "color": "#111", "strokeWidth": 1.3},
             "encoding": {"x": {"field": "speed", "type": "quantitative", "title": "Forward speed, km/h"}, "y": {"field": "lo", "type": "quantitative", "title": "Ridge profile upper width (Rpuw), cm"}, "y2": {"field": "hi"}}},
            {"data": {"name": "pts"}, "transform": [{"filter": "datum.panel === 'C' && datum.measure === 'Rpuw'"}, {"fold": ["lo", "hi"], "as": ["end", "bound"]}],
             "mark": {"type": "point", "shape": "M-1,0H1", "size": 110, "filled": false, "color": "#111", "strokeWidth": 1.3, "opacity": 1},
             "encoding": {"x": {"field": "speed", "type": "quantitative", "title": "Forward speed, km/h"}, "y": {"field": "bound", "type": "quantitative", "title": "Ridge profile upper width (Rpuw), cm"}}},
            {"data": {"name": "pts"}, "transform": [{"filter": "datum.panel === 'C' && datum.measure === 'Rpuw'"}],
             "mark": {"type": "point", "filled": false, "size": 64, "strokeWidth": 1.2, "opacity": 1},
             "encoding": {"x": {"field": "speed", "type": "quantitative", "title": "Forward speed, km/h"}, "y": {"field": "value", "type": "quantitative", "title": "Ridge profile upper width (Rpuw), cm"},
                          "color": {"field": "series", "type": "nominal"},
                          "shape": {"field": "series", "type": "nominal"},
                          "fill": {"field": "series", "type": "nominal"}}}
          ]
        }
      ],
      "resolve": {"scale": {"y": "independent"}}
    }
  ],
  "spacing": 0,
  "bounds": "flush",
  "resolve": {"scale": {"x": "independent", "y": "independent", "color": "independent", "shape": "independent", "fill": "independent", "stroke": "independent"}, "legend": {"color": "independent", "shape": "independent", "fill": "independent"}}
}
